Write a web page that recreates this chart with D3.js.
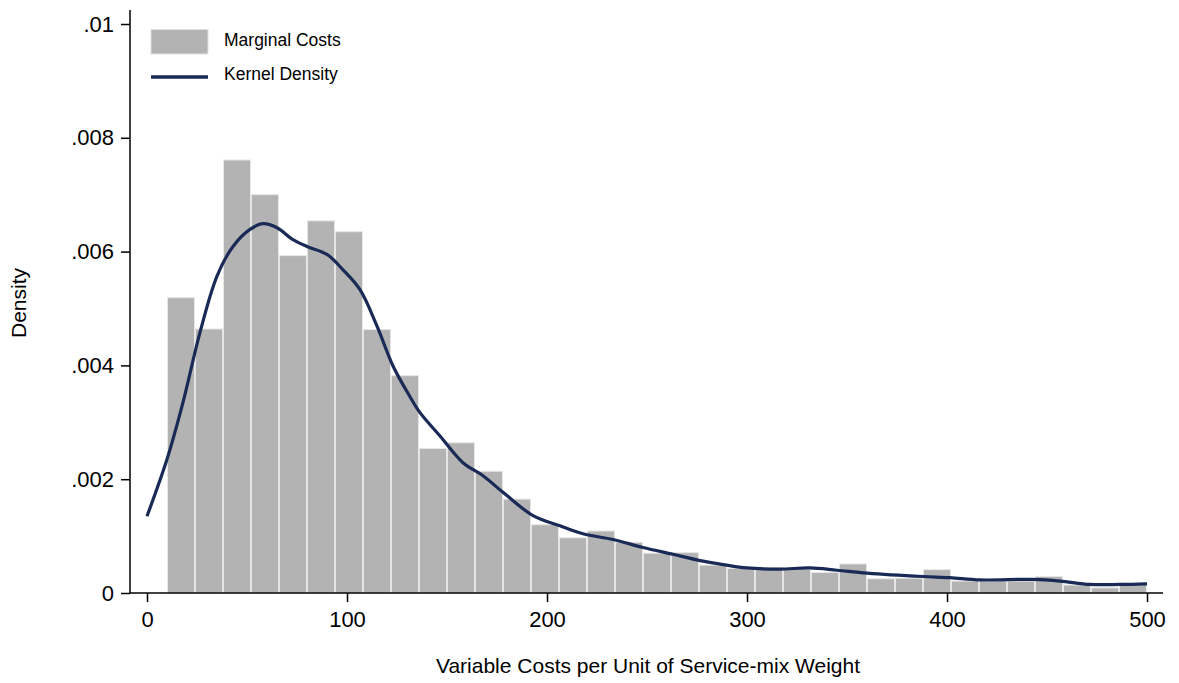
<!DOCTYPE html>
<html>
<head>
<meta charset="utf-8">
<script src="https://cdn.jsdelivr.net/npm/d3@7"></script>
<style>
  body { margin: 0; background: #fff; }
  text { font-family: Arial, "Liberation Sans", sans-serif; fill: #000; }
</style>
</head>
<body>
<svg width="1179" height="683"></svg>
<script>
// histogram bins: 35 bins of width 14 starting at 10
var binStart = 10, binWidth = 14;
var binDensity = [5.19, 4.64, 7.61, 7.0, 5.93, 6.54, 6.35, 4.63, 3.82, 2.54,
                  2.64, 2.14, 1.65, 1.20, 0.97, 1.09, 0.89, 0.70, 0.71, 0.49,
                  0.43, 0.45, 0.42, 0.36, 0.51, 0.25, 0.26, 0.41, 0.21, 0.21,
                  0.21, 0.29, 0.14, 0.09, 0.14]; // x 1e-3

// kernel density (x, density x 1e-3)
var kdX = [0, 10, 18, 26.5, 35, 43, 51.5, 58, 65, 73, 80, 90, 98, 106.5, 115, 123,
           131.5, 136.5, 146.5, 158, 168, 178, 193, 206.5, 218, 233, 248, 263, 276.5,
           288, 300, 316, 331.5, 345, 360, 388, 401.5, 416.5, 443, 456.5, 471.5, 486.5, 500];
var kdY = [1.35, 2.35, 3.35, 4.58, 5.57, 6.09, 6.39, 6.49, 6.42, 6.21, 6.09, 5.95, 5.68, 5.33, 4.69, 3.99,
           3.45, 3.17, 2.76, 2.29, 2.06, 1.77, 1.36, 1.18, 1.04, 0.94, 0.80, 0.68, 0.57,
           0.50, 0.44, 0.42, 0.44, 0.40, 0.35, 0.29, 0.27, 0.23, 0.24, 0.21, 0.15, 0.15, 0.16];

var xTicks = [0, 100, 200, 300, 400, 500];
var yTicks = [0, 0.002, 0.004, 0.006, 0.008, 0.01];
var yTickLabels = ["0", ".002", ".004", ".006", ".008", ".01"];

var svg = d3.select("svg");

var x = d3.scaleLinear().domain([0, 500]).range([147, 1147]);
var y = d3.scaleLinear().domain([0, 0.01]).range([593, 24]);

// bars
svg.append("g")
    .selectAll("rect")
    .data(binDensity)
    .enter().append("rect")
    .attr("x", function (d, i) { return x(binStart + i * binWidth) + 0.5; })
    .attr("width", function (d, i) { return x(binStart + (i + 1) * binWidth) - x(binStart + i * binWidth) - 1; })
    .attr("y", function (d) { return y(d / 1000); })
    .attr("height", function (d) { return y(0) - y(d / 1000); })
    .attr("fill", "#b3b3b3")
    .attr("stroke", "#e6e6e6")
    .attr("stroke-width", 1);

// kernel density line
var kd = kdX.map(function (v, i) { return [v, kdY[i] / 1000]; });
svg.append("path")
    .datum(kd)
    .attr("fill", "none")
    .attr("stroke", "#1a2a56")
    .attr("stroke-width", 3.2)
    .attr("d", d3.line()
        .x(function (d) { return x(d[0]); })
        .y(function (d) { return y(d[1]); })
        .curve(d3.curveCatmullRom));

// y axis
var yAxis = svg.append("g").attr("transform", "translate(130,0)")
    .call(d3.axisLeft(y).tickValues(yTicks)
        .tickFormat(function (d, i) { return yTickLabels[i]; })
        .tickSize(9).tickSizeOuter(0).tickPadding(7));
yAxis.select(".domain").attr("d", "M0,10V593");
yAxis.selectAll("text").style("font-size", "22px").style("font-family", "Arial, 'Liberation Sans', sans-serif");

// x axis
var xAxis = svg.append("g").attr("transform", "translate(0,593)")
    .call(d3.axisBottom(x).tickValues(xTicks).tickFormat(d3.format("d"))
        .tickSize(9).tickSizeOuter(0).tickPadding(9));
xAxis.select(".domain").attr("d", "M130,0H1163");
xAxis.selectAll("text").style("font-size", "22px").style("font-family", "Arial, 'Liberation Sans', sans-serif");
svg.selectAll(".domain, .tick line").attr("stroke", "#000").attr("stroke-width", 1.5);

// axis titles
svg.append("text")
    .attr("x", 648).attr("y", 673)
    .attr("text-anchor", "middle")
    .style("font-size", "21px")
    .text("Variable Costs per Unit of Service-mix Weight");

svg.append("text")
    .attr("transform", "translate(26,303) rotate(-90)")
    .attr("text-anchor", "middle")
    .style("font-size", "21px")
    .text("Density");

// legend
var legend = svg.append("g");
legend.append("rect")
    .attr("x", 151).attr("y", 29.5).attr("width", 57).attr("height", 24.5)
    .attr("fill", "#b3b3b3").attr("stroke", "#e0e0e0");
legend.append("text").attr("x", 224).attr("y", 46)
    .style("font-size", "17.5px").text("Marginal Costs");
legend.append("line")
    .attr("x1", 151).attr("x2", 208).attr("y1", 77).attr("y2", 77)
    .attr("stroke", "#1a2a56").attr("stroke-width", 3.5);
legend.append("text").attr("x", 224).attr("y", 79.5)
    .style("font-size", "17.5px").text("Kernel Density");
</script>
</body>
</html>
